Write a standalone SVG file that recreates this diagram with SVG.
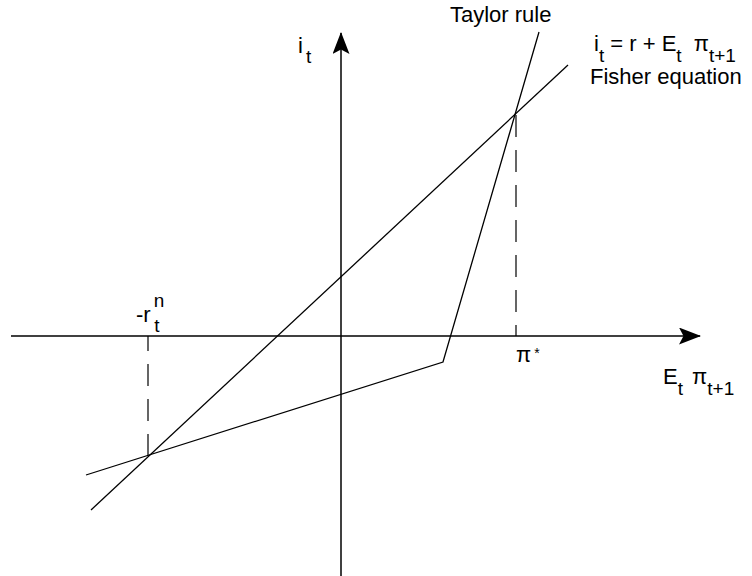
<svg xmlns="http://www.w3.org/2000/svg" width="752" height="576" viewBox="0 0 752 576">
<style>
.ln{stroke:#000;stroke-width:1.3;fill:none}
.ax{stroke:#000;stroke-width:1.5;fill:none}
.ds{stroke:#000;stroke-width:1.2;fill:none;stroke-dasharray:22 13}
text{font-family:"Liberation Sans",Arial,sans-serif;font-size:22px;fill:#000}
.sb{font-size:19px}
.sm{font-size:14px}
</style>
<defs>
<marker id="ah" viewBox="0 0 22 17" refX="21" refY="8.5" markerWidth="22" markerHeight="17" markerUnits="userSpaceOnUse" orient="auto">
<path d="M0,0 L22,8.5 L0,17 L4.5,8.5 Z" fill="#000"/>
</marker>
</defs>
<g id="axes">
<line id="x-axis" class="ax" x1="11" y1="336" x2="700" y2="336" marker-end="url(#ah)"/>
<line id="y-axis" class="ax" x1="341" y1="576" x2="341" y2="33" marker-end="url(#ah)"/>
</g>
<g id="connectors">
<polyline id="fisher" class="ln" points="91,510 568,65"/>
<polyline id="taylor" class="ln" points="86,475 443,362 539,32"/>
<line id="dash-left" class="ds" x1="148" y1="456" x2="148" y2="336"/>
<line id="dash-right" class="ds" x1="516" y1="115" x2="516" y2="336"/>
</g>
<g id="labels">
<text x="298" y="53">i<tspan class="sb" dx="3" dy="10">t</tspan></text>
<text x="450" y="22">Taylor rule</text>
<text x="594" y="51">i<tspan class="sb" dy="11">t</tspan><tspan dy="-11"> = r + E</tspan><tspan class="sb" dy="11">t</tspan><tspan dx="6" dy="-11">  π</tspan><tspan class="sb" dy="11">t+1</tspan></text>
<text x="590" y="84">Fisher equation</text>
<text x="136" y="322">-r<tspan class="sb" dx="3" dy="-15">n</tspan><tspan class="sb" dx="-10" dy="25">t</tspan></text>
<text x="516" y="362">π<tspan class="sm" dx="3" dy="-4">*</tspan></text>
<text x="663" y="384">E<tspan class="sb" dy="11">t</tspan><tspan dx="3" dy="-11">  π</tspan><tspan class="sb" dy="11">t+1</tspan></text>
</g>
</svg>
